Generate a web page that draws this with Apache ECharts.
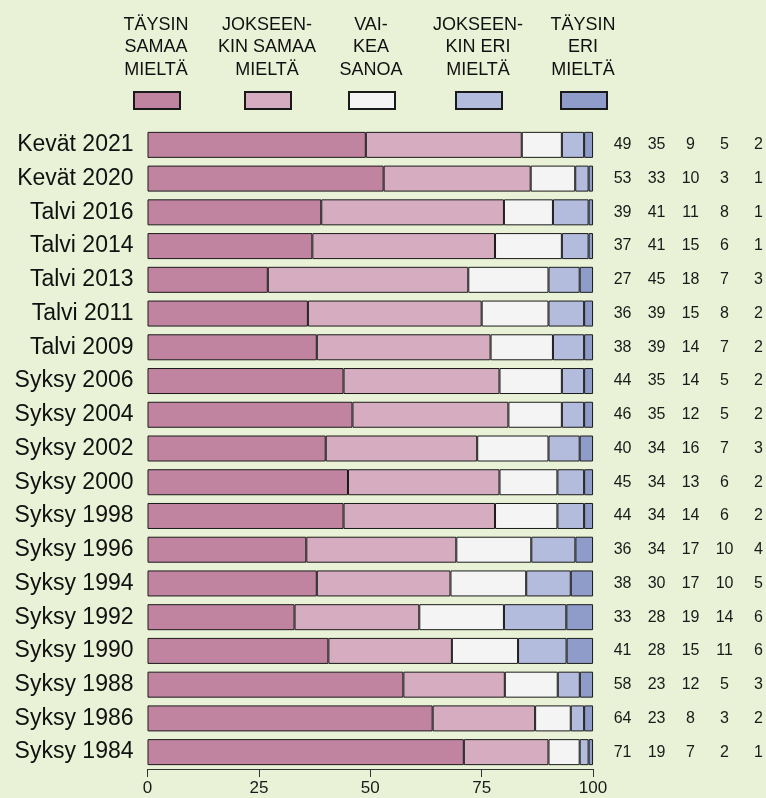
<!DOCTYPE html>
<html>
<head>
<meta charset="utf-8">
<script src="https://cdn.jsdelivr.net/npm/echarts@6/dist/echarts.min.js"></script>
<style>
html,body{margin:0;padding:0;background:#e9f2d6;}
#chart{width:766px;height:798px;}
</style>
</head>
<body>
<div id="chart"></div>
<script>
const categories = ['Kevät 2021','Kevät 2020','Talvi 2016','Talvi 2014','Talvi 2013','Talvi 2011','Talvi 2009','Syksy 2006','Syksy 2004','Syksy 2002','Syksy 2000','Syksy 1998','Syksy 1996','Syksy 1994','Syksy 1992','Syksy 1990','Syksy 1988','Syksy 1986','Syksy 1984'];
const taysinSamaa     = [49,53,39,37,27,36,38,44,46,40,45,44,36,38,33,41,58,64,71];
const jokseenkinSamaa = [35,33,41,41,45,39,39,35,35,34,34,34,34,30,28,28,23,23,19];
const vaikeaSanoa     = [9,10,11,15,18,15,14,14,12,16,13,14,17,17,19,15,12,8,7];
const jokseenkinEri   = [5,3,8,6,7,8,7,5,5,7,6,6,10,10,14,11,5,3,2];
const taysinEri       = [2,1,1,1,3,2,2,2,2,3,2,2,4,5,6,6,3,2,1];
const seriesNames = ['TÄYSIN\nSAMAA\nMIELTÄ','JOKSEEN-\nKIN SAMAA\nMIELTÄ','VAI-\nKEA\nSANOA','JOKSEEN-\nKIN ERI\nMIELTÄ','TÄYSIN\nERI\nMIELTÄ'];
const xTicks = [0,25,50,75,100];

const colors = ['#c084a0','#d6adc0','#f4f4f4','#b4bcdd','#8f9bc9'];
const allSeries = [taysinSamaa, jokseenkinSamaa, vaikeaSanoa, jokseenkinEri, taysinEri];
const totals = categories.map((c,i)=>allSeries.reduce((s,a)=>s+a[i],0));
const legendX = [156,267,371,478,583];
const FONT = '"Liberation Sans", Arial, sans-serif';

const chart = echarts.init(document.getElementById('chart'), null, {renderer:'canvas'});
const rich = {};
['a','b','c','d','e'].forEach(k=>{ rich[k] = {width:34, align:'center', fontSize:16, color:'#1a1a1a', fontFamily:FONT}; });

const option = {
  backgroundColor:'#e9f2d6',
  animation:false,
  grid:{left:147.5, right:170.5, top:128, height:641},
  legend: seriesNames.map((n,i)=>({
    data:[n], left:legendX[i]-23, top:91, padding:0, itemGap:0,
    itemWidth:46, itemHeight:17, icon:'rect', selectedMode:false,
    formatter:()=>'', textStyle:{fontSize:1}
  })),
  graphic: seriesNames.map((n,i)=>({
    type:'text', x:legendX[i], y:13.5,
    style:{text:n, align:'center', verticalAlign:'top', fontSize:18, fontFamily:FONT, lineHeight:22.5, fill:'#111'}
  })),
  xAxis:{
    type:'value', min:xTicks[0], max:xTicks[xTicks.length-1], interval:25,
    axisLine:{show:true, lineStyle:{color:'#333', width:1}},
    axisTick:{show:true, length:8, lineStyle:{color:'#333'}},
    splitLine:{show:false},
    axisLabel:{fontSize:17, color:'#1a1a1a', fontFamily:FONT, margin:11}
  },
  yAxis:[{
    type:'category', data:categories, inverse:true,
    axisLine:{show:false}, axisTick:{show:false},
    axisLabel:{fontSize:23, color:'#111', fontFamily:FONT, margin:14}
  },{
    type:'category', data:categories, inverse:true, position:'right',
    axisLine:{show:false}, axisTick:{show:false},
    axisLabel:{margin:12.5, rich:rich,
      formatter:(v,i)=>'{a|'+taysinSamaa[i]+'}{b|'+jokseenkinSamaa[i]+'}{c|'+vaikeaSanoa[i]+'}{d|'+jokseenkinEri[i]+'}{e|'+taysinEri[i]+'}'}
  }],
  series: allSeries.map((arr,k)=>({
    name:seriesNames[k], type:'bar', stack:'total', barWidth:26,
    data: arr.map((v,i)=>v/totals[i]*100),
    itemStyle:{color:colors[k], borderColor:'#1a1a1a', borderWidth:1},
    emphasis:{disabled:true}
  }))
};
chart.setOption(option);
</script>
</body>
</html>
